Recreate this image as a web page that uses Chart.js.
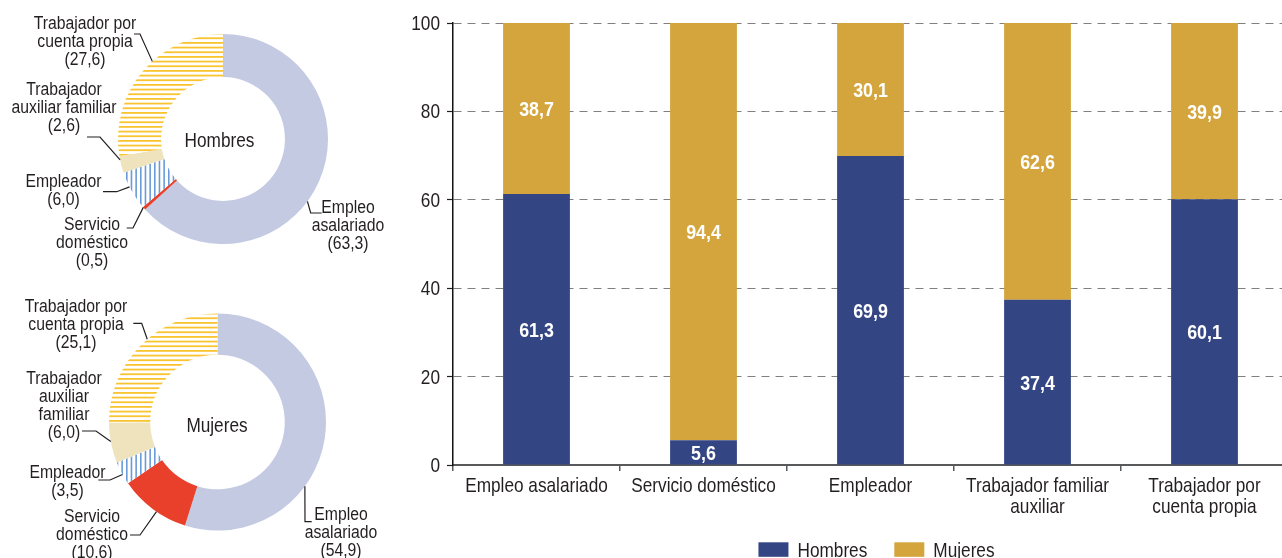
<!DOCTYPE html>
<html lang="es">
<head>
<meta charset="utf-8">
<title>Empleo por categoría ocupacional y sexo</title>
<script src="https://cdn.jsdelivr.net/npm/chart.js@4.4.1/dist/chart.umd.min.js"></script>
<style>
  html, body { margin: 0; padding: 0; background: #fff; }
  body { width: 1282px; height: 558px; position: relative; overflow: hidden; }
  canvas { position: absolute; }
  #donutH { left: 0; top: 0; }
  #donutM { left: 0; top: 280px; }
  #barras { left: 400px; top: 0; }
</style>
</head>
<body>
<canvas id="donutH" width="400" height="280"></canvas>
<canvas id="donutM" width="400" height="278"></canvas>
<canvas id="barras" width="890" height="558"></canvas>
<script>
// categorías ocupacionales
const categorias = ['Empleo asalariado', 'Servicio doméstico', 'Empleador', 'Trabajador familiar auxiliar', 'Trabajador por cuenta propia'];
const etiquetasEje = [['Empleo asalariado'], ['Servicio doméstico'], ['Empleador'], ['Trabajador familiar', 'auxiliar'], ['Trabajador por', 'cuenta propia']];

// composición por sexo de cada categoría (%)
const hombres = [61.3, 5.6, 69.9, 37.4, 60.1];
const mujeres = [38.7, 94.4, 30.1, 62.6, 39.9];

// distribución de cada sexo entre categorías (%)
const distHombres = [63.3, 0.5, 6.0, 2.6, 27.6];
const distMujeres = [54.9, 10.6, 3.5, 6.0, 25.1];

const ticksY = [0, 20, 40, 60, 80, 100];

// la fuente original es estrecha: Liberation Sans comprimida en horizontal
const FUENTE = '"Liberation Sans", Arial, sans-serif';
const TEXTO = '#231f20';
const AZUL = '#344583';
const ORO = '#d3a53c';

const fmt = v => v.toFixed(1).replace('.', ',');

function texto(ctx, str, x, y, size, sx, align, bold) {
  ctx.save();
  ctx.translate(x, y);
  ctx.scale(sx, 1);
  ctx.font = (bold ? 'bold ' : '') + size + 'px ' + FUENTE;
  ctx.textAlign = align;
  ctx.textBaseline = 'alphabetic';
  ctx.fillText(str, 0, 0);
  ctx.restore();
}

// relleno rayado para los anillos (3 rayas por tesela)
function rayas(color, horizontal, periodo, grosor) {
  const c = document.createElement('canvas');
  const largo = Math.round(periodo * 3);
  c.width = horizontal ? 8 : largo;
  c.height = horizontal ? largo : 8;
  const g = c.getContext('2d');
  g.fillStyle = '#fff';
  g.fillRect(0, 0, c.width, c.height);
  g.fillStyle = color;
  for (let k = 0; k < 3; k++) {
    const p = k * largo / 3;
    if (horizontal) g.fillRect(0, p, c.width, grosor);
    else g.fillRect(p, 0, grosor, c.height);
  }
  return g.createPattern(c, 'repeat');
}

const coloresAnillo = ['#c5cae3', '#e8402a', rayas('#6a9bd8', false, 4.67, 1.6), '#eee3bc', rayas('#f9c430', true, 4.67, 1.8)];

// etiquetas con líneas guía alrededor de los anillos
const etiquetasAnillo = {
  id: 'etiquetasAnillo',
  afterDraw(chart, args, opts) {
    const ctx = chart.ctx;
    const arcs = chart.getDatasetMeta(0).data;
    const valores = chart.data.datasets[0].data;
    ctx.save();
    ctx.fillStyle = TEXTO;
    ctx.strokeStyle = TEXTO;
    ctx.lineWidth = 1.2;
    opts.items.forEach((it, i) => {
      const a = arcs[i];
      const ang = a.startAngle + it.at * (a.endAngle - a.startAngle);
      const px = a.x + Math.cos(ang) * a.outerRadius;
      const py = a.y + Math.sin(ang) * a.outerRadius;
      it.lineas.concat('(' + fmt(valores[i]) + ')')
        .forEach((t, k) => texto(ctx, t, it.x, it.y + k * 18, 17.5, 0.9, 'center'));
      ctx.beginPath();
      ctx.moveTo(it.guia[0][0], it.guia[0][1]);
      it.guia.slice(1).forEach(p => ctx.lineTo(p[0], p[1]));
      ctx.lineTo(px, py);
      ctx.stroke();
    });
    texto(ctx, opts.centro.texto, opts.centro.x, opts.centro.y, 21, 0.82, 'center');
    ctx.restore();
  }
};

function anillo(id, datos, cutout, padding, items, centro) {
  return new Chart(document.getElementById(id), {
    type: 'doughnut',
    data: {
      labels: categorias,
      datasets: [{ data: datos, backgroundColor: coloresAnillo, borderWidth: 0 }]
    },
    options: {
      responsive: false,
      animation: false,
      cutout: cutout,
      layout: { padding: padding },
      plugins: {
        legend: { display: false },
        tooltip: { enabled: false },
        etiquetasAnillo: { items: items, centro: centro }
      }
    },
    plugins: [etiquetasAnillo]
  });
}

anillo('donutH', distHombres, '59%', { left: 118, right: 72, top: 34, bottom: 36 }, [
  { lineas: ['Empleo', 'asalariado'], x: 348, y: 213, at: 0.555, guia: [[321.7, 213], [310.7, 213]] },
  { lineas: ['Servicio', 'doméstico'], x: 92, y: 230, at: 0.83, guia: [[126.7, 228], [133, 228]] },
  { lineas: ['Empleador'], x: 63.5, y: 187, at: 0.61, guia: [[103, 191.7], [116.7, 191.7]] },
  { lineas: ['Trabajador', 'auxiliar familiar'], x: 64, y: 95, at: 0.77, guia: [[87, 137], [100, 137]] },
  { lineas: ['Trabajador por', 'cuenta propia'], x: 85, y: 29, at: 0.574, guia: [[134, 34], [140, 34]] }
], { texto: 'Hombres', x: 219.5, y: 146.7 });

anillo('donutM', distMujeres, '62%', { left: 109, right: 74, top: 33.5, bottom: 27.5 }, [
  { lineas: ['Empleo', 'asalariado'], x: 341, y: 240, at: 0.64, guia: [[311.7, 241.7], [305, 241.7]] },
  { lineas: ['Servicio', 'doméstico'], x: 92, y: 242, at: 0.44, guia: [[130, 255], [140, 255]] },
  { lineas: ['Empleador'], x: 67.5, y: 198, at: 0.44, guia: [[98.3, 200], [110, 200]] },
  { lineas: ['Trabajador', 'auxiliar', 'familiar'], x: 64, y: 104, at: 0.53, guia: [[82, 151], [96, 151]] },
  { lineas: ['Trabajador por', 'cuenta propia'], x: 76, y: 32, at: 0.553, guia: [[133.3, 43.3], [141.7, 43.3]] }
], { texto: 'Mujeres', x: 217, y: 151.7 });

// valores dentro de las barras
const valoresBarras = {
  id: 'valoresBarras',
  afterDatasetsDraw(chart) {
    const ctx = chart.ctx;
    ctx.save();
    ctx.fillStyle = '#fff';
    chart.data.datasets.forEach((ds, d) => {
      chart.getDatasetMeta(d).data.forEach((bar, i) => {
        const { x, y, base } = bar.getProps(['x', 'y', 'base'], true);
        texto(ctx, fmt(ds.data[i]), x, (y + base) / 2 + 7.5, 21, 0.85, 'center', true);
      });
    });
    ctx.restore();
  }
};

// rótulos de los ejes, situados con las escalas de Chart.js
const textosEjes = {
  id: 'textosEjes',
  afterDraw(chart) {
    const ctx = chart.ctx;
    const sx = chart.scales.x, sy = chart.scales.y;
    ctx.save();
    ctx.fillStyle = TEXTO;
    sy.ticks.forEach(t => texto(ctx, String(t.value), sy.right - 13, sy.getPixelForValue(t.value) + 7, 21, 0.82, 'right'));
    sx.ticks.forEach((t, i) => {
      chart.data.labels[i].forEach((l, k) => texto(ctx, l, sx.getPixelForTick(i), sx.top + 27.3 + k * 20.5, 21, 0.82, 'center'));
    });
    ctx.restore();
  }
};

// leyenda centrada bajo el área del gráfico
const leyenda = {
  id: 'leyenda',
  afterDraw(chart) {
    const ctx = chart.ctx, area = chart.chartArea;
    ctx.save();
    ctx.font = '21px ' + FUENTE;
    const items = chart.data.datasets.map(ds => ({ texto: ds.label, color: ds.backgroundColor, w: ctx.measureText(ds.label).width * 0.82 }));
    const caja = 30, sep = 9, hueco = 27;
    const total = items.reduce((s, it) => s + caja + sep + it.w, 0) + hueco * (items.length - 1);
    let x = (area.left + area.right) / 2 + 6 - total / 2;
    items.forEach(it => {
      ctx.fillStyle = it.color;
      ctx.fillRect(x, 542.3, caja, 14.5);
      ctx.fillStyle = TEXTO;
      texto(ctx, it.texto, x + caja + sep, 557, 21, 0.82, 'left');
      x += caja + sep + it.w + hueco;
    });
    ctx.restore();
  }
};

new Chart(document.getElementById('barras'), {
  type: 'bar',
  data: {
    labels: etiquetasEje,
    datasets: [
      { label: 'Hombres', data: hombres, backgroundColor: AZUL },
      { label: 'Mujeres', data: mujeres, backgroundColor: ORO }
    ]
  },
  options: {
    responsive: false,
    animation: false,
    layout: { padding: { top: 23, right: 2, bottom: 0, left: 0 } },
    datasets: { bar: { categoryPercentage: 1, barPercentage: 0.4 } },
    scales: {
      x: {
        stacked: true,
        afterFit(s) { s.height = 93; },
        grid: { display: true, drawOnChartArea: false, drawTicks: true, tickLength: 6, color: '#58595b', lineWidth: 1.5 },
        border: { color: '#58595b', width: 2 },
        ticks: { display: false, autoSkip: false }
      },
      y: {
        stacked: true,
        min: 0,
        max: 100,
        afterFit(s) { s.width = 53; },
        afterBuildTicks(s) { s.ticks = ticksY.map(v => ({ value: v })); },
        grid: { color: '#808080', lineWidth: 1, tickLength: 6, tickColor: TEXTO, tickWidth: 1.2 },
        border: { color: '#111', width: 1.5, dash: [8, 6] },
        ticks: { display: false }
      }
    },
    plugins: { legend: { display: false }, tooltip: { enabled: false } }
  },
  plugins: [valoresBarras, textosEjes, leyenda]
});
</script>
</body>
</html>
